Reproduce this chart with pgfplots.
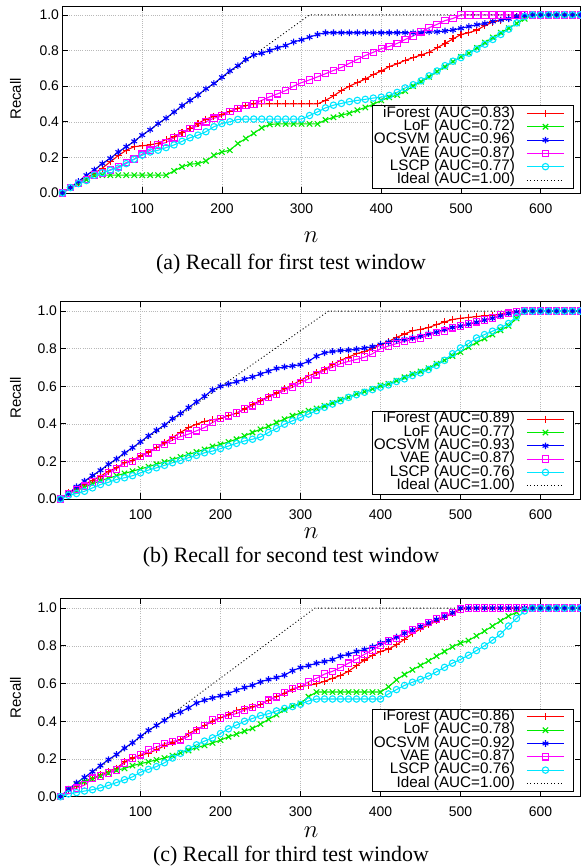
\documentclass[border=0pt]{standalone}
\usepackage{fontspec}
\setmainfont{Liberation Serif}
\setsansfont{Liberation Sans}
\usepackage{pgfplots}
\usepackage{pgfplotstable}
\pgfplotsset{compat=1.18}

\definecolor{gpred}{RGB}{255,0,0}
\definecolor{gpgreen}{RGB}{0,235,0}
\definecolor{gpblue}{RGB}{0,0,255}
\definecolor{gpmag}{RGB}{255,0,255}
\definecolor{gpcyan}{RGB}{0,230,255}

% first test window
\pgfplotstableread{
n   ifo   lof   ocs   vae   lscp
0   0     0     0     0     0
10  0.03  0.03  0.03  0.03  0.03
20  0.06  0.053 0.065 0.053 0.053
30  0.085 0.075 0.10  0.077 0.07
40  0.11  0.10  0.13  0.10  0.10
50  0.14  0.10  0.165 0.113 0.113
60  0.175 0.10  0.195 0.13  0.128
70  0.21  0.10  0.23  0.147 0.14
80  0.24  0.10  0.26  0.17  0.165
90  0.26  0.10  0.29  0.19  0.19
100 0.265 0.10  0.325 0.218 0.212
110 0.27  0.10  0.355 0.24  0.23
120 0.28  0.10  0.39  0.27  0.24
130 0.30  0.10  0.42  0.284 0.255
140 0.315 0.124 0.455 0.31  0.27
150 0.34  0.147 0.49  0.335 0.29
160 0.36  0.162 0.52  0.363 0.31
170 0.39  0.165 0.55  0.376 0.325
180 0.415 0.18  0.585 0.40  0.344
190 0.43  0.212 0.615 0.42  0.372
200 0.44  0.23  0.65  0.432 0.39
210 0.46  0.24  0.685 0.457 0.40
220 0.475 0.278 0.715 0.475 0.413
230 0.49  0.306 0.75  0.49  0.415
240 0.50  0.335 0.775 0.50  0.415
250 0.50  0.366 0.785 0.52  0.415
260 0.50  0.385 0.80  0.54  0.415
270 0.50  0.388 0.815 0.557 0.415
280 0.50  0.388 0.828 0.575 0.415
290 0.50  0.388 0.848 0.60  0.415
300 0.50  0.388 0.86  0.62  0.415
310 0.50  0.388 0.875 0.635 0.435
320 0.50  0.388 0.89  0.652 0.455
330 0.52  0.41  0.90  0.67  0.478
340 0.545 0.425 0.90  0.688 0.493
350 0.575 0.437 0.90  0.705 0.503
360 0.60  0.448 0.90  0.728 0.513
370 0.62  0.465 0.90  0.75  0.52
380 0.64  0.48  0.90  0.772 0.526
390 0.665 0.498 0.90  0.79  0.533
400 0.685 0.52  0.90  0.81  0.538
410 0.71  0.537 0.90  0.823 0.548
420 0.725 0.55  0.90  0.84  0.565
430 0.745 0.572 0.90  0.862 0.59
440 0.76  0.60  0.90  0.882 0.608
450 0.775 0.625 0.90  0.905 0.63
460 0.79  0.652 0.905 0.928 0.658
470 0.815 0.682 0.905 0.947 0.685
480 0.84  0.708 0.91  0.968 0.715
490 0.865 0.738 0.915 0.98  0.74
500 0.89  0.765 0.925 1.0   0.76
510 0.90  0.785 0.935 1.0   0.785
520 0.915 0.815 0.945 1.0   0.808
530 0.94  0.845 0.952 1.0   0.835
540 0.96  0.873 0.963 1.0   0.862
550 0.97  0.90  0.972 1.0   0.89
560 0.98  0.925 0.978 1.0   0.92
570 0.99  0.952 0.99  1.0   0.955
580 1.0   0.978 0.997 1.0   0.99
590 1.0   1.0   1.0   1.0   1.0
600 1.0   1.0   1.0   1.0   1.0
610 1.0   1.0   1.0   1.0   1.0
620 1.0   1.0   1.0   1.0   1.0
630 1.0   1.0   1.0   1.0   1.0
640 1.0   1.0   1.0   1.0   1.0
650 1.0   1.0   1.0   1.0   1.0
}\recA

% second test window
\pgfplotstableread{
n   ifo   lof   ocs   vae   lscp
0   0     0     0     0     0
10  0.032 0.03  0.03  0.03  0.02
20  0.054 0.045 0.065 0.05  0.029
30  0.077 0.062 0.095 0.068 0.041
40  0.10  0.08  0.125 0.09  0.059
50  0.121 0.098 0.153 0.107 0.077
60  0.148 0.11  0.185 0.139 0.089
70  0.166 0.124 0.213 0.16  0.104
80  0.193 0.136 0.245 0.19  0.113
90  0.207 0.148 0.273 0.20  0.124
100 0.229 0.16  0.304 0.225 0.139
110 0.25  0.172 0.336 0.246 0.154
120 0.273 0.185 0.366 0.273 0.166
130 0.30  0.197 0.393 0.291 0.179
140 0.327 0.21  0.428 0.314 0.193
150 0.354 0.224 0.455 0.332 0.205
160 0.38  0.237 0.487 0.345 0.22
170 0.398 0.25  0.517 0.363 0.232
180 0.413 0.264 0.547 0.38  0.246
190 0.421 0.28  0.58  0.407 0.255
200 0.429 0.29  0.60  0.429 0.268
210 0.443 0.304 0.612 0.443 0.282
220 0.457 0.318 0.624 0.457 0.296
230 0.479 0.336 0.638 0.479 0.309
240 0.505 0.354 0.65  0.496 0.318
250 0.523 0.371 0.665 0.518 0.33
260 0.546 0.386 0.68  0.541 0.354
270 0.564 0.407 0.695 0.559 0.375
280 0.586 0.425 0.703 0.577 0.398
290 0.607 0.443 0.708 0.595 0.416
300 0.632 0.457 0.715 0.618 0.434
310 0.655 0.47  0.733 0.639 0.452
320 0.672 0.482 0.76  0.661 0.47
330 0.69  0.496 0.778 0.684 0.488
340 0.714 0.511 0.785 0.702 0.505
350 0.738 0.529 0.79  0.72  0.523
360 0.755 0.541 0.792 0.732 0.541
370 0.773 0.559 0.797 0.743 0.555
380 0.785 0.571 0.803 0.755 0.568
390 0.80  0.586 0.811 0.773 0.582
400 0.821 0.604 0.822 0.80  0.595
410 0.838 0.613 0.834 0.814 0.607
420 0.86  0.63  0.845 0.827 0.625
430 0.878 0.648 0.85  0.839 0.639
440 0.895 0.666 0.858 0.85  0.657
450 0.903 0.679 0.868 0.857 0.671
460 0.912 0.696 0.88  0.871 0.689
470 0.928 0.72  0.888 0.886 0.711
480 0.942 0.738 0.903 0.893 0.738
490 0.955 0.761 0.913 0.911 0.773
500 0.962 0.782 0.92  0.921 0.804
510 0.966 0.809 0.93  0.932 0.827
520 0.971 0.832 0.94  0.943 0.857
530 0.975 0.854 0.952 0.952 0.875
540 0.978 0.875 0.962 0.964 0.893
550 0.984 0.898 0.975 0.979 0.911
560 0.993 0.921 0.987 0.989 0.934
570 0.997 0.961 0.995 0.996 0.97
580 1.0   1.0   1.0   1.0   1.0
590 1.0   1.0   1.0   1.0   1.0
600 1.0   1.0   1.0   1.0   1.0
610 1.0   1.0   1.0   1.0   1.0
620 1.0   1.0   1.0   1.0   1.0
630 1.0   1.0   1.0   1.0   1.0
640 1.0   1.0   1.0   1.0   1.0
650 1.0   1.0   1.0   1.0   1.0
}\recB

% third test window
\pgfplotstableread{
n   ifo   lof   ocs   vae   lscp
0   0     0     0     0     0
10  0.036 0.04  0.04  0.036 0.015
20  0.057 0.065 0.073 0.045 0.022
30  0.08  0.08  0.103 0.062 0.03
40  0.098 0.095 0.133 0.098 0.037
50  0.116 0.11  0.165 0.11  0.047
60  0.133 0.125 0.197 0.125 0.06
70  0.151 0.14  0.224 0.142 0.075
80  0.185 0.15  0.258 0.178 0.09
90  0.205 0.165 0.286 0.205 0.105
100 0.22  0.175 0.32  0.222 0.13
110 0.231 0.185 0.352 0.249 0.145
120 0.249 0.195 0.378 0.263 0.16
130 0.27  0.205 0.405 0.281 0.18
140 0.285 0.218 0.432 0.294 0.205
150 0.302 0.232 0.449 0.302 0.23
160 0.335 0.245 0.471 0.32  0.255
170 0.356 0.26  0.497 0.352 0.275
180 0.377 0.272 0.512 0.377 0.295
190 0.40  0.285 0.524 0.406 0.312
200 0.418 0.30  0.535 0.418 0.335
210 0.436 0.318 0.547 0.431 0.36
220 0.459 0.332 0.565 0.441 0.38
230 0.466 0.347 0.579 0.459 0.40
240 0.477 0.362 0.591 0.472 0.415
250 0.489 0.385 0.609 0.489 0.43
260 0.512 0.41  0.622 0.512 0.44
270 0.53  0.435 0.632 0.53  0.455
280 0.548 0.46  0.645 0.552 0.468
290 0.569 0.48  0.668 0.573 0.478
300 0.584 0.495 0.685 0.584 0.49
310 0.591 0.53  0.695 0.609 0.508
320 0.598 0.555 0.708 0.628 0.518
330 0.612 0.555 0.717 0.65  0.518
340 0.628 0.555 0.727 0.665 0.518
350 0.643 0.555 0.745 0.685 0.518
360 0.665 0.555 0.755 0.708 0.518
370 0.695 0.555 0.77  0.73  0.518
380 0.725 0.555 0.78  0.755 0.518
390 0.75  0.555 0.795 0.778 0.518
400 0.77  0.555 0.815 0.802 0.518
410 0.783 0.582 0.828 0.825 0.545
420 0.805 0.62  0.847 0.84  0.568
430 0.835 0.648 0.867 0.865 0.59
440 0.865 0.673 0.883 0.885 0.607
450 0.89  0.696 0.903 0.903 0.622
460 0.911 0.72  0.921 0.923 0.64
470 0.932 0.745 0.94  0.942 0.662
480 0.952 0.77  0.957 0.957 0.686
490 0.97  0.795 0.975 0.976 0.708
500 0.993 0.815 1.0   0.996 0.728
510 1.0   0.828 1.0   1.0   0.75
520 1.0   0.853 1.0   1.0   0.775
530 1.0   0.878 1.0   1.0   0.80
540 1.0   0.905 1.0   1.0   0.83
550 1.0   0.932 1.0   1.0   0.862
560 1.0   0.958 1.0   1.0   0.905
570 1.0   0.978 1.0   1.0   0.945
580 1.0   0.995 1.0   1.0   0.985
590 1.0   1.0   1.0   1.0   1.0
600 1.0   1.0   1.0   1.0   1.0
610 1.0   1.0   1.0   1.0   1.0
620 1.0   1.0   1.0   1.0   1.0
630 1.0   1.0   1.0   1.0   1.0
640 1.0   1.0   1.0   1.0   1.0
650 1.0   1.0   1.0   1.0   1.0
}\recC

\pgfplotsset{
  recallaxis/.style={
    scale only axis,
    xmin=0, xmax=650, ymin=0, ymax=1.05,
    xtick={100,200,300,400,500,600},
    ytick={0,0.2,0.4,0.6,0.8,1.0},
    clip=false,
    grid=major,
    grid style={line width=0.5bp, gray!55, dash pattern=on 0.6bp off 1.6bp},
    axis line style={line width=0.9bp},
    tick style={line width=0.7bp, black},
    major tick length=5.5bp,
    tick label style={font=\fontsize{14}{14}\selectfont\sffamily},
    xticklabel style={yshift=-7bp},
    /pgf/number format/assume math mode=true,
    yticklabel style={/pgf/number format/.cd, fixed, fixed zerofill, precision=1},
    every axis plot/.append style={line width=1.1bp},
    legend cell align=right,
    legend plot pos=right,
    legend style={at={(rel axis cs:0.986,0.025)}, anchor=south east,
      fill=white, inner sep=1.5bp, text=black,
      font=\fontsize{15.3}{15.3}\selectfont\sffamily,
      nodes={inner sep=0.5bp, text height=9.8bp, text depth=2.5bp, text=black},
      row sep=0bp,
      /tikz/every odd column/.append style={column sep=11bp}},
    legend image code/.code={
      \begin{scope}[#1]
      \draw[mark repeat=2,mark phase=2,#1] plot coordinates {(0bp,0bp) (18.5bp,0bp) (37bp,0bp)};
      \path (44bp,0bp);
      \end{scope}},
  },
}

\begin{document}
\begin{tikzpicture}[x=1bp,y=1bp]
\useasboundingbox (0bp,0bp) rectangle (581bp,866bp);

% (c)
\begin{axis}[recallaxis, at={(60.5bp,69.3bp)}, anchor=south west, width=520bp, height=198bp]
\addplot[color=gpred, mark=+, mark size=3.5bp] table[x=n,y=ifo]{\recC};
\addplot[color=gpgreen, mark=x, mark size=3.8bp] table[x=n,y=lof]{\recC};
\addplot[color=gpblue, mark=asterisk, mark size=3.3bp] table[x=n,y=ocs]{\recC};
\addplot[color=gpmag, mark=square, mark size=3.2bp] table[x=n,y=vae]{\recC};
\addplot[color=gpcyan, mark=o, mark size=3.2bp] table[x=n,y=lscp]{\recC};
\addplot[color=black, dash pattern=on 1bp off 2.4bp, line width=0.9bp] coordinates {(0,0) (318,1) (650,1)};
\legend{iForest (AUC=0.86), LoF (AUC=0.78), OCSVM (AUC=0.92), VAE (AUC=0.87), LSCP (AUC=0.76), Ideal (AUC=1.00)}
\end{axis}

% (b)
\begin{axis}[recallaxis, at={(60.5bp,367bp)}, anchor=south west, width=520bp, height=197.3bp]
\addplot[color=gpred, mark=+, mark size=3.5bp] table[x=n,y=ifo]{\recB};
\addplot[color=gpgreen, mark=x, mark size=3.8bp] table[x=n,y=lof]{\recB};
\addplot[color=gpblue, mark=asterisk, mark size=3.3bp] table[x=n,y=ocs]{\recB};
\addplot[color=gpmag, mark=square, mark size=3.2bp] table[x=n,y=vae]{\recB};
\addplot[color=gpcyan, mark=o, mark size=3.2bp] table[x=n,y=lscp]{\recB};
\addplot[color=black, dash pattern=on 1bp off 2.4bp, line width=0.9bp] coordinates {(0,0) (335,1) (650,1)};
\legend{iForest (AUC=0.89), LoF (AUC=0.77), OCSVM (AUC=0.93), VAE (AUC=0.87), LSCP (AUC=0.76), Ideal (AUC=1.00)}
\end{axis}

% (a)
\begin{axis}[recallaxis, at={(62.5bp,673bp)}, anchor=south west, width=518bp, height=187bp]
\addplot[color=gpred, mark=+, mark size=3.5bp] table[x=n,y=ifo]{\recA};
\addplot[color=gpgreen, mark=x, mark size=3.8bp] table[x=n,y=lof]{\recA};
\addplot[color=gpblue, mark=asterisk, mark size=3.3bp] table[x=n,y=ocs]{\recA};
\addplot[color=gpmag, mark=square, mark size=3.2bp] table[x=n,y=vae]{\recA};
\addplot[color=gpcyan, mark=o, mark size=3.2bp] table[x=n,y=lscp]{\recA};
\addplot[color=black, dash pattern=on 1bp off 2.4bp, line width=0.9bp] coordinates {(0,0) (310,1) (650,1)};
\legend{iForest (AUC=0.83), LoF (AUC=0.72), OCSVM (AUC=0.96), VAE (AUC=0.87), LSCP (AUC=0.77), Ideal (AUC=1.00)}
\end{axis}

% axis titles and captions
\node[rotate=90, font=\fontsize{15}{15}\selectfont\sffamily] at (15.5bp,767bp) {Recall};
\node[rotate=90, font=\fontsize{15}{15}\selectfont\sffamily] at (15.5bp,468bp) {Recall};
\node[rotate=90, font=\fontsize{15}{15}\selectfont\sffamily] at (15.5bp,168.5bp) {Recall};

\node[inner sep=0pt, font=\fontsize{26}{26}\selectfont] at (311bp,629bp) {$n$};
\node[inner sep=0pt, font=\fontsize{26}{26}\selectfont] at (311bp,333bp) {$n$};
\node[inner sep=0pt, font=\fontsize{26}{26}\selectfont] at (311bp,33.5bp) {$n$};

\node[anchor=base, inner sep=0pt, font=\fontsize{22}{22}\selectfont] at (291bp,596bp) {(a) Recall for first test window};
\node[anchor=base, inner sep=0pt, font=\fontsize{22}{22}\selectfont] at (291bp,303bp) {(b) Recall for second test window};
\node[anchor=base, inner sep=0pt, font=\fontsize{22}{22}\selectfont] at (291bp,5bp) {(c) Recall for third test window};
\end{tikzpicture}
\end{document}
